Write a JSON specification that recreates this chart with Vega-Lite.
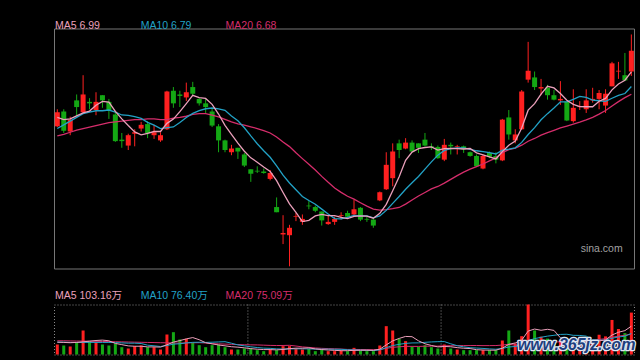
{
  "$schema": "https://vega.github.io/schema/vega-lite/v6.json",
  "background": "#000000",
  "padding": {"left": 53, "top": 19.5, "right": 6, "bottom": 4},
  "autosize": {"type": "pad"},
  "bounds": "flush",
  "spacing": 36,
  "config": {"view": {"stroke": "#777777", "strokeWidth": 1}, "scale": {"continuousPadding": 0}},
  "datasets": {
    "k": [
{"i":0,"o":6.25,"c":6.44,"h":6.48,"l":6.24,"v":36.5,"m5":6.37,"m10":6.22,"m20":6.12,"vm5":45,"vm10":45,"vm20":50},
{"i":1,"o":6.45,"c":6.19,"h":6.48,"l":6.16,"v":32.8,"m5":6.34,"m10":6.27,"m20":6.14,"vm5":44,"vm10":45,"vm20":50},
{"i":2,"o":6.18,"c":6.34,"h":6.38,"l":6.13,"v":29.2,"m5":6.35,"m10":6.32,"m20":6.17,"vm5":43,"vm10":44,"vm20":49.5},
{"i":3,"o":6.60,"c":6.51,"h":6.68,"l":6.39,"v":44.9,"m5":6.39,"m10":6.37,"m20":6.20,"vm5":44,"vm10":44,"vm20":49},
{"i":4,"o":6.44,"c":6.68,"h":6.94,"l":6.43,"v":87.5,"m5":6.432,"m10":6.42,"m20":6.22,"vm5":46.2,"vm10":44,"vm20":49},
{"i":5,"o":6.58,"c":6.56,"h":6.63,"l":6.48,"v":48.6,"m5":6.456,"m10":6.44,"m20":6.24,"vm5":48.6,"vm10":44,"vm20":48.5},
{"i":6,"o":6.47,"c":6.58,"h":6.71,"l":6.40,"v":44.9,"m5":6.534,"m10":6.46,"m20":6.26,"vm5":51.0,"vm10":44,"vm20":48},
{"i":7,"o":6.67,"c":6.60,"h":6.67,"l":6.50,"v":36.5,"m5":6.586,"m10":6.46,"m20":6.28,"vm5":52.5,"vm10":44,"vm20":47.5},
{"i":8,"o":6.58,"c":6.47,"h":6.62,"l":6.35,"v":32.8,"m5":6.578,"m10":6.47,"m20":6.30,"vm5":50.1,"vm10":44,"vm20":47},
{"i":9,"o":6.41,"c":6.05,"h":6.45,"l":6.04,"v":38.9,"m5":6.452,"m10":6.442,"m20":6.31,"vm5":40.3,"vm10":43.3,"vm20":46.5},
{"i":10,"o":6.07,"c":6.05,"h":6.16,"l":5.96,"v":26.7,"m5":6.35,"m10":6.403,"m20":6.32,"vm5":36.0,"vm10":42.3,"vm20":46},
{"i":11,"o":5.99,"c":6.13,"h":6.15,"l":5.93,"v":21.9,"m5":6.26,"m10":6.397,"m20":6.33,"vm5":31.4,"vm10":41.2,"vm20":45.5},
{"i":12,"o":6.15,"c":6.17,"h":6.21,"l":5.98,"v":30.4,"m5":6.174,"m10":6.38,"m20":6.34,"vm5":30.1,"vm10":41.3,"vm20":45},
{"i":13,"o":6.22,"c":6.27,"h":6.31,"l":6.18,"v":32.8,"m5":6.134,"m10":6.356,"m20":6.34,"vm5":30.1,"vm10":40.1,"vm20":44.5},
{"i":14,"o":6.28,"c":6.16,"h":6.32,"l":6.09,"v":26.7,"m5":6.156,"m10":6.304,"m20":6.35,"vm5":27.7,"vm10":34.0,"vm20":44},
{"i":15,"o":6.13,"c":6.17,"h":6.27,"l":6.08,"v":26.7,"m5":6.18,"m10":6.265,"m20":6.35,"vm5":27.7,"vm10":31.8,"vm20":43.5},
{"i":16,"o":6.06,"c":6.13,"h":6.17,"l":6.04,"v":18.2,"m5":6.18,"m10":6.22,"m20":6.34,"vm5":27.0,"vm10":29.2,"vm20":43},
{"i":17,"o":6.21,"c":6.72,"h":6.73,"l":6.20,"v":72.9,"m5":6.29,"m10":6.232,"m20":6.34,"vm5":35.5,"vm10":32.8,"vm20":42.5},
{"i":18,"o":6.73,"c":6.56,"h":6.78,"l":6.50,"v":81.4,"m5":6.348,"m10":6.241,"m20":6.36,"vm5":45.2,"vm10":37.7,"vm20":42},
{"i":19,"o":6.68,"c":6.66,"h":6.73,"l":6.51,"v":54.7,"m5":6.448,"m10":6.302,"m20":6.372,"vm5":50.8,"vm10":39.2,"vm20":41.3},
{"i":20,"o":6.64,"c":6.71,"h":6.84,"l":6.59,"v":57.1,"m5":6.556,"m10":6.368,"m20":6.386,"vm5":56.9,"vm10":42.3,"vm20":42.3},
{"i":21,"o":6.78,"c":6.69,"h":6.85,"l":6.67,"v":42.5,"m5":6.668,"m10":6.424,"m20":6.41,"vm5":61.7,"vm10":44.3,"vm20":42.8},
{"i":22,"o":6.62,"c":6.56,"h":6.63,"l":6.53,"v":34.0,"m5":6.636,"m10":6.463,"m20":6.422,"vm5":53.9,"vm10":44.7,"vm20":43.0},
{"i":23,"o":6.56,"c":6.51,"h":6.62,"l":6.42,"v":26.7,"m5":6.626,"m10":6.487,"m20":6.422,"vm5":43.0,"vm10":44.1,"vm20":42.1},
{"i":24,"o":6.45,"c":6.26,"h":6.50,"l":6.24,"v":34.0,"m5":6.546,"m10":6.497,"m20":6.40,"vm5":38.9,"vm10":44.8,"vm20":39.4},
{"i":25,"o":6.25,"c":6.06,"h":6.28,"l":5.90,"v":36.5,"m5":6.416,"m10":6.486,"m20":6.376,"vm5":34.7,"vm10":45.8,"vm20":38.8},
{"i":26,"o":6.06,"c":5.93,"h":6.07,"l":5.90,"v":26.7,"m5":6.264,"m10":6.466,"m20":6.343,"vm5":31.6,"vm10":46.7,"vm20":37.9},
{"i":27,"o":5.90,"c":5.95,"h":6.00,"l":5.86,"v":18.2,"m5":6.142,"m10":6.389,"m20":6.31,"vm5":28.4,"vm10":41.2,"vm20":37.0},
{"i":28,"o":5.96,"c":5.91,"h":5.96,"l":5.81,"v":18.2,"m5":6.022,"m10":6.324,"m20":6.283,"vm5":26.7,"vm10":34.9,"vm20":36.3},
{"i":29,"o":5.87,"c":5.72,"h":5.89,"l":5.70,"v":21.9,"m5":5.914,"m10":6.23,"m20":6.266,"vm5":24.3,"vm10":31.6,"vm20":35.4},
{"i":30,"o":5.67,"c":5.61,"h":5.67,"l":5.50,"v":21.9,"m5":5.824,"m10":6.12,"m20":6.244,"vm5":21.4,"vm10":28.1,"vm20":35.2},
{"i":31,"o":5.65,"c":5.64,"h":5.71,"l":5.62,"v":15.8,"m5":5.766,"m10":6.015,"m20":6.22,"vm5":19.2,"vm10":25.4,"vm20":34.9},
{"i":32,"o":5.64,"c":5.62,"h":5.68,"l":5.61,"v":12.2,"m5":5.70,"m10":5.921,"m20":6.192,"vm5":18.0,"vm10":23.2,"vm20":34.0},
{"i":33,"o":5.54,"c":5.62,"h":5.66,"l":5.52,"v":18.2,"m5":5.642,"m10":5.832,"m20":6.16,"vm5":18.0,"vm10":22.4,"vm20":33.2},
{"i":34,"o":5.16,"c":5.09,"h":5.29,"l":5.09,"v":15.8,"m5":5.516,"m10":5.715,"m20":6.106,"vm5":16.8,"vm10":20.5,"vm20":32.7},
{"i":35,"o":4.79,"c":4.81,"h":5.05,"l":4.66,"v":30.4,"m5":5.356,"m10":5.59,"m20":6.038,"vm5":18.5,"vm10":19.9,"vm20":32.9},
{"i":36,"o":4.78,"c":4.88,"h":4.92,"l":4.36,"v":30.4,"m5":5.204,"m10":5.485,"m20":5.976,"vm5":21.4,"vm10":20.3,"vm20":33.5},
{"i":37,"o":5.03,"c":5.04,"h":5.08,"l":4.97,"v":20.7,"m5":5.088,"m10":5.394,"m20":5.892,"vm5":23.1,"vm10":20.6,"vm20":30.9},
{"i":38,"o":4.96,"c":5.00,"h":5.06,"l":4.92,"v":18.2,"m5":4.964,"m10":5.303,"m20":5.814,"vm5":23.1,"vm10":20.6,"vm20":27.7},
{"i":39,"o":5.18,"c":5.17,"h":5.24,"l":5.13,"v":20.7,"m5":4.98,"m10":5.248,"m20":5.739,"vm5":24.1,"vm10":20.4,"vm20":26.0},
{"i":40,"o":5.16,"c":5.11,"h":5.18,"l":5.09,"v":12.2,"m5":5.04,"m10":5.198,"m20":5.659,"vm5":20.4,"vm10":19.5,"vm20":23.8},
{"i":41,"o":5.10,"c":4.98,"h":5.10,"l":4.91,"v":18.2,"m5":5.06,"m10":5.132,"m20":5.574,"vm5":18.0,"vm10":19.7,"vm20":22.5},
{"i":42,"o":4.93,"c":4.96,"h":5.05,"l":4.92,"v":12.2,"m5":5.044,"m10":5.066,"m20":5.494,"vm5":16.3,"vm10":19.7,"vm20":21.5},
{"i":43,"o":4.96,"c":5.00,"h":5.03,"l":4.92,"v":12.2,"m5":5.044,"m10":5.004,"m20":5.418,"vm5":15.1,"vm10":19.1,"vm20":20.7},
{"i":44,"o":5.04,"c":5.05,"h":5.09,"l":4.99,"v":14.6,"m5":5.02,"m10":5.00,"m20":5.358,"vm5":13.9,"vm10":19.0,"vm20":19.8},
{"i":45,"o":5.08,"c":5.03,"h":5.11,"l":5.01,"v":12.2,"m5":5.004,"m10":5.022,"m20":5.306,"vm5":13.9,"vm10":17.2,"vm20":18.5},
{"i":46,"o":5.06,"c":5.13,"h":5.26,"l":5.05,"v":24.3,"m5":5.034,"m10":5.047,"m20":5.266,"vm5":15.1,"vm10":16.6,"vm20":18.4},
{"i":47,"o":5.15,"c":4.99,"h":5.16,"l":4.97,"v":14.6,"m5":5.04,"m10":5.042,"m20":5.218,"vm5":15.6,"vm10":15.9,"vm20":18.2},
{"i":48,"o":5.00,"c":4.99,"h":5.04,"l":4.96,"v":12.2,"m5":5.038,"m10":5.041,"m20":5.172,"vm5":15.6,"vm10":15.3,"vm20":17.9},
{"i":49,"o":4.99,"c":4.91,"h":5.00,"l":4.88,"v":12.2,"m5":5.01,"m10":5.015,"m20":5.132,"vm5":15.1,"vm10":14.5,"vm20":17.5},
{"i":50,"o":5.25,"c":5.36,"h":5.37,"l":5.24,"v":32.8,"m5":5.076,"m10":5.04,"m20":5.119,"vm5":19.2,"vm10":16.6,"vm20":18.0},
{"i":51,"o":5.40,"c":5.73,"h":5.90,"l":5.39,"v":103.3,"m5":5.196,"m10":5.115,"m20":5.124,"vm5":35.0,"vm10":25.1,"vm20":22.4},
{"i":52,"o":5.55,"c":5.91,"h":6.02,"l":5.44,"v":87.5,"m5":5.38,"m10":5.21,"m20":5.138,"vm5":49.6,"vm10":32.6,"vm20":26.1},
{"i":53,"o":6.02,"c":5.93,"h":6.07,"l":5.82,"v":57.1,"m5":5.568,"m10":5.303,"m20":5.154,"vm5":58.6,"vm10":37.1,"vm20":28.1},
{"i":54,"o":5.95,"c":6.03,"h":6.09,"l":5.94,"v":48.6,"m5":5.792,"m10":5.401,"m20":5.20,"vm5":65.9,"vm10":40.5,"vm20":29.7},
{"i":55,"o":6.03,"c":5.91,"h":6.06,"l":5.90,"v":27.9,"m5":5.902,"m10":5.489,"m20":5.256,"vm5":64.9,"vm10":42.1,"vm20":29.6},
{"i":56,"o":6.02,"c":5.96,"h":6.02,"l":5.89,"v":27.9,"m5":5.948,"m10":5.572,"m20":5.31,"vm5":49.8,"vm10":42.4,"vm20":29.5},
{"i":57,"o":6.07,"c":5.99,"h":6.16,"l":5.98,"v":34.0,"m5":5.964,"m10":5.672,"m20":5.357,"vm5":39.1,"vm10":44.4,"vm20":30.1},
{"i":58,"o":5.98,"c":5.97,"h":6.02,"l":5.93,"v":26.7,"m5":5.972,"m10":5.77,"m20":5.406,"vm5":33.0,"vm10":45.8,"vm20":30.6},
{"i":59,"o":5.97,"c":5.82,"h":5.99,"l":5.81,"v":21.9,"m5":5.93,"m10":5.861,"m20":5.438,"vm5":27.7,"vm10":46.8,"vm20":30.6},
{"i":60,"o":5.80,"c":6.00,"h":6.08,"l":5.78,"v":36.5,"m5":5.948,"m10":5.925,"m20":5.483,"vm5":29.4,"vm10":47.1,"vm20":31.8},
{"i":61,"o":6.00,"c":5.98,"h":6.03,"l":5.87,"v":21.9,"m5":5.952,"m10":5.95,"m20":5.533,"vm5":28.2,"vm10":39.0,"vm20":32.0},
{"i":62,"o":5.97,"c":5.98,"h":6.00,"l":5.87,"v":18.2,"m5":5.95,"m10":5.957,"m20":5.584,"vm5":25.0,"vm10":32.1,"vm20":32.3},
{"i":63,"o":5.98,"c":5.94,"h":5.99,"l":5.89,"v":15.8,"m5":5.944,"m10":5.958,"m20":5.631,"vm5":22.9,"vm10":27.9,"vm20":32.5},
{"i":64,"o":5.90,"c":5.85,"h":5.91,"l":5.84,"v":15.8,"m5":5.95,"m10":5.94,"m20":5.671,"vm5":21.6,"vm10":24.7,"vm20":32.6},
{"i":65,"o":5.85,"c":5.71,"h":5.87,"l":5.70,"v":15.8,"m5":5.892,"m10":5.92,"m20":5.705,"vm5":17.5,"vm10":23.5,"vm20":32.8},
{"i":66,"o":5.68,"c":5.85,"h":5.87,"l":5.67,"v":15.8,"m5":5.866,"m10":5.909,"m20":5.741,"vm5":16.3,"vm10":22.2,"vm20":32.3},
{"i":67,"o":5.89,"c":5.84,"h":5.91,"l":5.82,"v":15.8,"m5":5.838,"m10":5.894,"m20":5.783,"vm5":15.8,"vm10":20.4,"vm20":32.4},
{"i":68,"o":5.85,"c":5.80,"h":5.90,"l":5.75,"v":15.8,"m5":5.81,"m10":5.877,"m20":5.824,"vm5":15.8,"vm10":19.3,"vm20":32.6},
{"i":69,"o":5.79,"c":6.34,"h":6.35,"l":5.78,"v":51.0,"m5":5.908,"m10":5.929,"m20":5.895,"vm5":22.8,"vm10":22.2,"vm20":34.5},
{"i":70,"o":6.37,"c":6.14,"h":6.47,"l":6.07,"v":87.5,"m5":5.994,"m10":5.943,"m20":5.934,"vm5":37.2,"vm10":27.3,"vm20":37.2},
{"i":71,"o":6.06,"c":6.14,"h":6.21,"l":6.02,"v":40.0,"m5":6.052,"m10":5.959,"m20":5.955,"vm5":42.0,"vm10":29.2,"vm20":34.1},
{"i":72,"o":6.21,"c":6.72,"h":6.74,"l":6.20,"v":66.8,"m5":6.228,"m10":6.033,"m20":5.995,"vm5":52.2,"vm10":34.0,"vm20":33.0},
{"i":73,"o":6.88,"c":7.00,"h":7.39,"l":6.84,"v":182.3,"m5":6.468,"m10":6.139,"m20":6.049,"vm5":85.5,"vm10":50.7,"vm20":39.3},
{"i":74,"o":6.91,"c":6.78,"h":6.99,"l":6.74,"v":87.5,"m5":6.556,"m10":6.232,"m20":6.086,"vm5":92.8,"vm10":57.8,"vm20":41.2},
{"i":75,"o":6.76,"c":6.78,"h":6.89,"l":6.67,"v":65.0,"m5":6.684,"m10":6.339,"m20":6.13,"vm5":88.3,"vm10":62.8,"vm20":43.1},
{"i":76,"o":6.77,"c":6.67,"h":6.81,"l":6.61,"v":58.0,"m5":6.79,"m10":6.421,"m20":6.165,"vm5":91.9,"vm10":67.0,"vm20":44.6},
{"i":77,"o":6.67,"c":6.61,"h":6.74,"l":6.60,"v":46.0,"m5":6.768,"m10":6.498,"m20":6.196,"vm5":87.8,"vm10":70.0,"vm20":45.2},
{"i":78,"o":6.60,"c":6.62,"h":6.86,"l":6.54,"v":48.0,"m5":6.692,"m10":6.58,"m20":6.229,"vm5":60.9,"vm10":73.2,"vm20":46.3},
{"i":79,"o":6.58,"c":6.33,"h":6.58,"l":6.32,"v":56.6,"m5":6.602,"m10":6.579,"m20":6.254,"vm5":54.7,"vm10":73.8,"vm20":48.0},
{"i":80,"o":6.32,"c":6.50,"h":6.75,"l":6.30,"v":48.6,"m5":6.546,"m10":6.615,"m20":6.279,"vm5":51.4,"vm10":69.9,"vm20":48.6},
{"i":81,"o":6.51,"c":6.52,"h":6.59,"l":6.47,"v":36.5,"m5":6.516,"m10":6.653,"m20":6.306,"vm5":47.1,"vm10":69.5,"vm20":49.3},
{"i":82,"o":6.48,"c":6.60,"h":6.75,"l":6.43,"v":42.5,"m5":6.514,"m10":6.641,"m20":6.337,"vm5":46.4,"vm10":67.1,"vm20":50.6},
{"i":83,"o":6.60,"c":6.62,"h":6.77,"l":6.57,"v":48.6,"m5":6.514,"m10":6.603,"m20":6.371,"vm5":46.6,"vm10":53.7,"vm20":52.2},
{"i":84,"o":6.62,"c":6.70,"h":6.74,"l":6.48,"v":72.0,"m5":6.588,"m10":6.595,"m20":6.414,"vm5":49.6,"vm10":52.2,"vm20":55.0},
{"i":85,"o":6.53,"c":6.69,"h":6.75,"l":6.43,"v":66.0,"m5":6.626,"m10":6.586,"m20":6.463,"vm5":53.1,"vm10":52.3,"vm20":57.5},
{"i":86,"o":6.79,"c":7.10,"h":7.12,"l":6.79,"v":126.0,"m5":6.742,"m10":6.629,"m20":6.525,"vm5":71.0,"vm10":59.1,"vm20":63.0},
{"i":87,"o":6.99,"c":7.00,"h":7.12,"l":6.89,"v":93.0,"m5":6.822,"m10":6.668,"m20":6.583,"vm5":81.1,"vm10":63.8,"vm20":66.9},
{"i":88,"o":6.94,"c":6.87,"h":7.24,"l":6.86,"v":78.0,"m5":6.872,"m10":6.693,"m20":6.637,"vm5":87.0,"vm10":66.8,"vm20":70.0},
{"i":89,"o":6.99,"c":7.27,"h":7.49,"l":6.93,"v":152.8,"m5":6.986,"m10":6.787,"m20":6.683,"vm5":103.2,"vm10":76.4,"vm20":75.1}
    ],
    "lab": [
      {"t": "MA5 6.99", "s": "MA5", "i": -0.357, "p": 7.6785},
      {"t": "MA10 6.79", "s": "MA10", "i": 12.92, "p": 7.6785},
      {"t": "MA20 6.68", "s": "MA20", "i": 26.09, "p": 7.6785}
    ],
    "vlab": [
      {"t": "MA5 103.16万", "s": "MA5", "i": -0.357, "v": 233.3},
      {"t": "MA10 76.40万", "s": "MA10", "i": 12.92, "v": 233.3},
      {"t": "MA20 75.09万", "s": "MA20", "i": 26.09, "v": 233.3}
    ],
    "sep": [{"i": 29.55}, {"i": 59.5}]
  },
  "vconcat": [
    {
      "width": 580,
      "height": 240,
      "data": {"name": "k"},
      "layer": [
        {
          "mark": {"type": "rule", "strokeWidth": 1},
          "encoding": {
            "x": {"field": "i", "type": "quantitative", "scale": {"domain": [-0.512, 89.41], "nice": false, "zero": false, "padding": 0}, "axis": null},
            "y": {"field": "l", "type": "quantitative", "scale": {"domain": [4.3305, 7.5705], "nice": false, "zero": false},
                  "axis": {"values": [6.747, 5.937, 5.127], "labels": false, "ticks": false, "domain": false, "title": null, "grid": true, "gridColor": "#5a5a5a", "gridDash": [2, 2], "gridWidth": 1}},
            "y2": {"field": "h"},
            "color": {"condition": {"test": "datum.c >= datum.o", "value": "#ff2020"}, "value": "#14a814"}
          }
        },
        {
          "mark": {"type": "bar", "size": 5},
          "encoding": {
            "x": {"field": "i", "type": "quantitative", "scale": {"domain": [-0.512, 89.41], "nice": false, "zero": false, "padding": 0}, "axis": null},
            "y": {"field": "o", "type": "quantitative", "scale": {"domain": [4.3305, 7.5705], "nice": false, "zero": false}, "axis": null},
            "y2": {"field": "c"},
            "color": {"condition": {"test": "datum.c >= datum.o", "value": "#ff2020"}, "value": "#14a814"}
          }
        },
        {
          "mark": {"type": "line", "color": "#d52d6b", "strokeWidth": 1.3},
          "encoding": {
            "x": {"field": "i", "type": "quantitative", "scale": {"domain": [-0.512, 89.41], "nice": false, "zero": false, "padding": 0}, "axis": null},
            "y": {"field": "m20", "type": "quantitative", "scale": {"domain": [4.3305, 7.5705], "nice": false, "zero": false}, "axis": null}
          }
        },
        {
          "mark": {"type": "line", "color": "#22a2c6", "strokeWidth": 1.3},
          "encoding": {
            "x": {"field": "i", "type": "quantitative", "scale": {"domain": [-0.512, 89.41], "nice": false, "zero": false, "padding": 0}, "axis": null},
            "y": {"field": "m10", "type": "quantitative", "scale": {"domain": [4.3305, 7.5705], "nice": false, "zero": false}, "axis": null}
          }
        },
        {
          "mark": {"type": "line", "color": "#eba0bb", "strokeWidth": 1.3},
          "encoding": {
            "x": {"field": "i", "type": "quantitative", "scale": {"domain": [-0.512, 89.41], "nice": false, "zero": false, "padding": 0}, "axis": null},
            "y": {"field": "m5", "type": "quantitative", "scale": {"domain": [4.3305, 7.5705], "nice": false, "zero": false}, "axis": null}
          }
        },
        {
          "data": {"name": "lab"},
          "mark": {"type": "text", "align": "left", "baseline": "top", "fontSize": 10.5, "font": "Liberation Sans, Noto Sans CJK SC"},
          "encoding": {
            "x": {"field": "i", "type": "quantitative", "scale": {"domain": [-0.512, 89.41], "nice": false, "zero": false, "padding": 0}, "axis": null},
            "y": {"field": "p", "type": "quantitative", "scale": {"domain": [4.3305, 7.5705], "nice": false, "zero": false}, "axis": null},
            "text": {"field": "t"},
            "color": {"field": "s", "type": "nominal", "scale": {"domain": ["MA5", "MA10", "MA20"], "range": ["#eba0bb", "#22a2c6", "#d52d6b"]}, "legend": null}
          }
        },
        {
          "data": {"values": [{"t": "sina.com", "i": 87.65, "p": 4.6005}]},
          "mark": {"type": "text", "align": "right", "baseline": "middle", "fontSize": 10.5, "font": "Liberation Sans", "color": "#a0a0a0"},
          "encoding": {
            "x": {"field": "i", "type": "quantitative", "scale": {"domain": [-0.512, 89.41], "nice": false, "zero": false, "padding": 0}, "axis": null},
            "y": {"field": "p", "type": "quantitative", "scale": {"domain": [4.3305, 7.5705], "nice": false, "zero": false}, "axis": null},
            "text": {"field": "t"}
          }
        }
      ]
    },
    {
      "width": 580,
      "height": 50,
      "view": {"stroke": "#8a8a8a", "strokeDash": [1, 2]},
      "data": {"name": "k"},
      "layer": [
        {
          "data": {"name": "sep"},
          "mark": {"type": "rule", "color": "#8a8a8a", "strokeDash": [1, 2], "strokeWidth": 1},
          "encoding": {
            "x": {"field": "i", "type": "quantitative", "scale": {"domain": [-0.512, 89.41], "nice": false, "zero": false, "padding": 0}, "axis": null}
          }
        },
        {
          "mark": {"type": "bar", "size": 3},
          "encoding": {
            "x": {"field": "i", "type": "quantitative", "scale": {"domain": [-0.512, 89.41], "nice": false, "zero": false, "padding": 0}, "axis": null},
            "y": {"field": "v", "type": "quantitative", "scale": {"domain": [0, 182.3], "nice": false, "zero": true},
                  "axis": {"labels": false, "ticks": false, "grid": false, "domain": true, "domainColor": "#777777", "domainWidth": 1, "title": null}},
            "color": {"condition": {"test": "datum.c >= datum.o", "value": "#ff2020"}, "value": "#14a814"}
          }
        },
        {
          "mark": {"type": "line", "color": "#d52d6b", "strokeWidth": 1},
          "encoding": {
            "x": {"field": "i", "type": "quantitative", "scale": {"domain": [-0.512, 89.41], "nice": false, "zero": false, "padding": 0}, "axis": null},
            "y": {"field": "vm20", "type": "quantitative", "scale": {"domain": [0, 182.3], "nice": false, "zero": true}, "axis": null}
          }
        },
        {
          "mark": {"type": "line", "color": "#22a2c6", "strokeWidth": 1},
          "encoding": {
            "x": {"field": "i", "type": "quantitative", "scale": {"domain": [-0.512, 89.41], "nice": false, "zero": false, "padding": 0}, "axis": null},
            "y": {"field": "vm10", "type": "quantitative", "scale": {"domain": [0, 182.3], "nice": false, "zero": true}, "axis": null}
          }
        },
        {
          "mark": {"type": "line", "color": "#eba0bb", "strokeWidth": 1},
          "encoding": {
            "x": {"field": "i", "type": "quantitative", "scale": {"domain": [-0.512, 89.41], "nice": false, "zero": false, "padding": 0}, "axis": null},
            "y": {"field": "vm5", "type": "quantitative", "scale": {"domain": [0, 182.3], "nice": false, "zero": true}, "axis": null}
          }
        },
        {
          "data": {"name": "vlab"},
          "mark": {"type": "text", "align": "left", "baseline": "top", "fontSize": 10.5, "font": "Liberation Sans, Noto Sans CJK SC"},
          "encoding": {
            "x": {"field": "i", "type": "quantitative", "scale": {"domain": [-0.512, 89.41], "nice": false, "zero": false, "padding": 0}, "axis": null},
            "y": {"field": "v", "type": "quantitative", "scale": {"domain": [0, 182.3], "nice": false, "zero": true}, "axis": null},
            "text": {"field": "t"},
            "color": {"field": "s", "type": "nominal", "scale": {"domain": ["MA5", "MA10", "MA20"], "range": ["#eba0bb", "#22a2c6", "#d52d6b"]}, "legend": null}
          }
        },
        {
          "data": {"values": [{"t": "www.365jz.com", "i": 80.5, "v": 14.6}]},
          "mark": {"type": "text", "align": "center", "baseline": "alphabetic", "fontSize": 16, "fontWeight": "bold", "fontStyle": "italic", "font": "Liberation Sans", "fill": "#1e3f7e", "stroke": "#dfe6f3", "strokeWidth": 2.5, "strokeJoin": "round"},
          "encoding": {
            "x": {"field": "i", "type": "quantitative", "scale": {"domain": [-0.512, 89.41], "nice": false, "zero": false, "padding": 0}, "axis": null},
            "y": {"field": "v", "type": "quantitative", "scale": {"domain": [0, 182.3], "nice": false, "zero": true}, "axis": null},
            "text": {"field": "t"}
          }
        },
        {
          "data": {"values": [{"t": "www.365jz.com", "i": 80.5, "v": 14.6}]},
          "mark": {"type": "text", "align": "center", "baseline": "alphabetic", "fontSize": 16, "fontWeight": "bold", "fontStyle": "italic", "font": "Liberation Sans", "fill": "#1e3f7e"},
          "encoding": {
            "x": {"field": "i", "type": "quantitative", "scale": {"domain": [-0.512, 89.41], "nice": false, "zero": false, "padding": 0}, "axis": null},
            "y": {"field": "v", "type": "quantitative", "scale": {"domain": [0, 182.3], "nice": false, "zero": true}, "axis": null},
            "text": {"field": "t"}
          }
        }
      ]
    }
  ]
}
